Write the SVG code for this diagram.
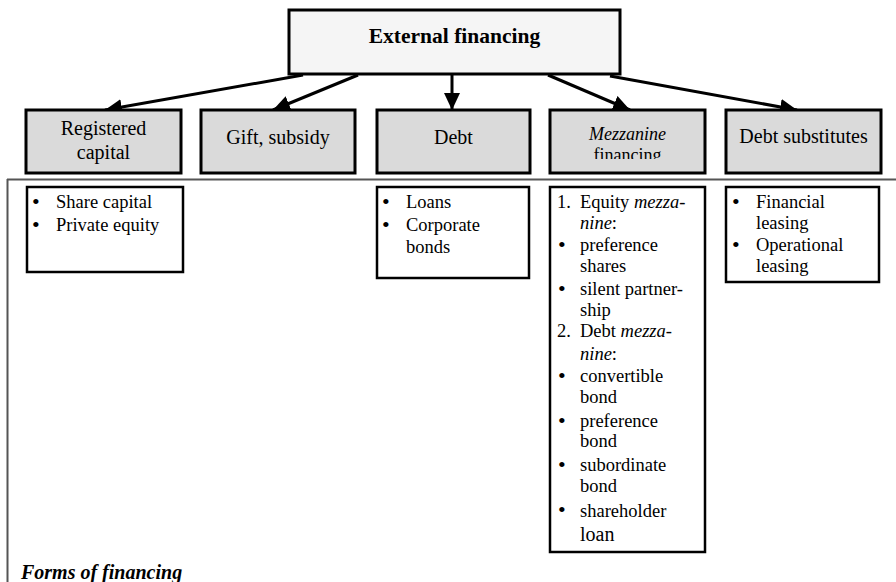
<svg xmlns="http://www.w3.org/2000/svg" width="896" height="582" viewBox="0 0 896 582">
<style>
text{font-family:"Liberation Serif","Times New Roman",serif;fill:#000}
.hdr{fill:#dadada;stroke:#000;stroke-width:3}
.top{fill:#f5f5f5;stroke:#000;stroke-width:3}
.lst{fill:#fff;stroke:#000;stroke-width:2.5}
.h{font-size:20px;text-anchor:middle}
.l{font-size:18.5px}
.b{font-size:22px}
.i{font-style:italic}
.conn line{stroke:#000;stroke-width:3;marker-end:url(#ah)}
</style>
<defs>
<marker id="ah" markerUnits="userSpaceOnUse" markerWidth="19" markerHeight="17" refX="17" refY="8" orient="auto">
<path d="M0,0 L17,8 L0,16 Z" fill="#000"/>
</marker>
<clipPath id="mzclip"><rect x="550" y="110" width="155" height="49"/></clipPath>
</defs>
<rect width="896" height="582" fill="#fff"/>
<g id="frame">
<line x1="7" y1="179.5" x2="896" y2="179.5" stroke="#555" stroke-width="2"/>
<line x1="7.5" y1="179" x2="7.5" y2="582" stroke="#555" stroke-width="2"/>
<text x="21" y="579" font-size="20" font-weight="bold" font-style="italic">Forms of financing</text>
</g>
<g class="conn" id="connectors">
<line x1="303" y1="75" x2="105" y2="110"/>
<line x1="358" y1="75" x2="273" y2="110"/>
<line x1="452" y1="75" x2="452" y2="110"/>
<line x1="548" y1="75" x2="630" y2="110"/>
<line x1="610" y1="76" x2="797" y2="110"/>
</g>
<g id="external">
<rect class="top" x="289" y="10" width="331" height="64"/>
<text x="454.5" y="43" font-size="21.5" font-weight="bold" text-anchor="middle">External financing</text>
</g>
<g id="registered">
<rect class="hdr" x="26" y="110" width="155" height="63"/>
<text class="h" x="103.5" y="135">Registered</text>
<text class="h" x="103.5" y="159">capital</text>
</g>
<g id="gift">
<rect class="hdr" x="201" y="110" width="154" height="63"/>
<text class="h" x="278" y="144">Gift, subsidy</text>
</g>
<g id="debt">
<rect class="hdr" x="377" y="110" width="153" height="63"/>
<text class="h" x="453.5" y="144">Debt</text>
</g>
<g id="mezzanine">
<rect class="hdr" x="550" y="110" width="155" height="63"/>
<text x="627.5" y="140" font-size="18" font-style="italic" text-anchor="middle">Mezzanine</text>
<text x="627.5" y="161" font-size="18" text-anchor="middle" clip-path="url(#mzclip)">financing</text>
</g>
<g id="substitutes">
<rect class="hdr" x="726" y="110" width="155" height="63"/>
<text class="h" x="803.5" y="143">Debt substitutes</text>
</g>
<g id="registered-list">
<rect class="lst" x="27" y="187" width="156" height="85"/>
<text class="b" x="32" y="209">•</text><text class="l" x="56" y="208">Share capital</text>
<text class="b" x="32" y="232">•</text><text class="l" x="56" y="231">Private equity</text>
</g>
<g id="debt-list">
<rect class="lst" x="377" y="187" width="152" height="91"/>
<text class="b" x="382" y="209">•</text><text class="l" x="406" y="208">Loans</text>
<text class="b" x="382" y="232">•</text><text class="l" x="406" y="231">Corporate</text>
<text class="l" x="406" y="253">bonds</text>
</g>
<g id="mezzanine-list">
<rect class="lst" x="550" y="187" width="155" height="365"/>
<text class="l" x="557" y="208">1.</text><text class="l" x="580" y="208">Equity <tspan class="i">mezza-</tspan></text>
<text class="l" x="580" y="229"><tspan class="i">nine</tspan>:</text>
<text class="b" x="558" y="252">•</text><text class="l" x="580" y="251">preference</text>
<text class="l" x="580" y="272">shares</text>
<text class="b" x="558" y="296">•</text><text class="l" x="580" y="295">silent partner-</text>
<text class="l" x="580" y="316">ship</text>
<text class="l" x="557" y="337">2.</text><text class="l" x="580" y="337">Debt <tspan class="i">mezza-</tspan></text>
<text class="l" x="580" y="360"><tspan class="i">nine</tspan>:</text>
<text class="b" x="558" y="383">•</text><text class="l" x="580" y="382">convertible</text>
<text class="l" x="580" y="403">bond</text>
<text class="b" x="558" y="428">•</text><text class="l" x="580" y="427">preference</text>
<text class="l" x="580" y="447">bond</text>
<text class="b" x="558" y="472">•</text><text class="l" x="580" y="471">subordinate</text>
<text class="l" x="580" y="492">bond</text>
<text class="b" x="558" y="517">•</text><text class="l" x="580" y="517">shareholder</text>
<text x="580" y="541" font-size="20">loan</text>
</g>
<g id="substitutes-list">
<rect class="lst" x="726" y="187" width="153" height="95"/>
<text class="b" x="732" y="209">•</text><text class="l" x="756" y="208">Financial</text>
<text class="l" x="756" y="229">leasing</text>
<text class="b" x="732" y="252">•</text><text class="l" x="756" y="251">Operational</text>
<text class="l" x="756" y="272">leasing</text>
</g>
</svg>
